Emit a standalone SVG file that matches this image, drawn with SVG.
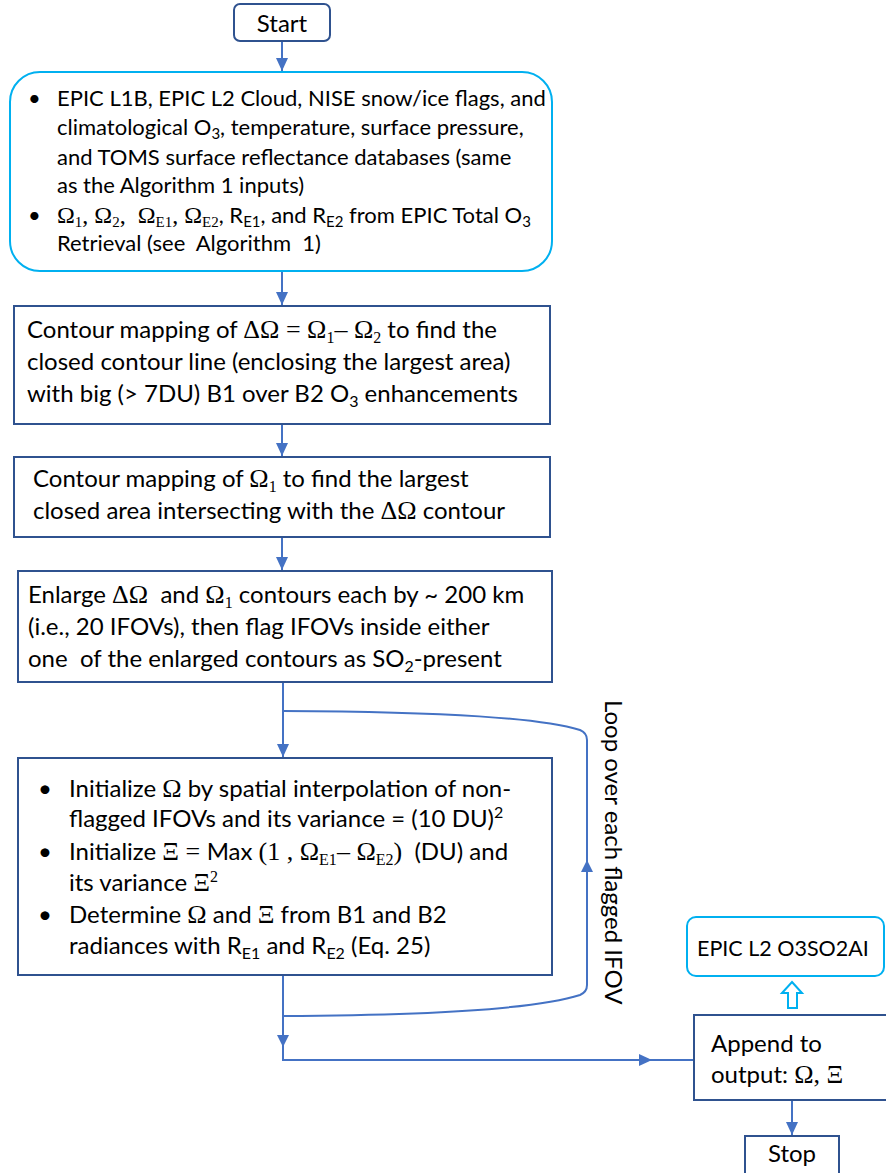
<svg xmlns="http://www.w3.org/2000/svg" width="886" height="1173" viewBox="0 0 886 1173">
<style>
text{font-family:Lato,"Liberation Sans",sans-serif;fill:#000;white-space:pre}
.t22{font-size:22px}
.t24{font-size:24px}
.s{font-family:"Liberation Serif","Times New Roman",serif}
.t24 .s{font-size:26px}
.t22 .s{font-size:24px}
.t24 .sb{font-size:16px}
.t22 .sb{font-size:15px}
.box{fill:#fff;stroke:#2F528F;stroke-width:2}
.lb{fill:#fff;stroke:#00B0F0;stroke-width:2}
.c{fill:none;stroke:#4472C4;stroke-width:2}
.ah{fill:#4472C4}
</style>
<defs>
<marker id="arr" markerUnits="userSpaceOnUse" markerWidth="13" markerHeight="12" viewBox="0 0 13 12" refX="13" refY="6" orient="auto"><path d="M0,0 L13,6 L0,12 z" fill="#4472C4"/></marker>
</defs>
<rect width="886" height="1173" fill="#fff"/>
<g id="connectors">
<path class="c" d="M282,41 V71" marker-end="url(#arr)"/>
<path class="c" d="M282,271 V305" marker-end="url(#arr)"/>
<path class="c" d="M282,424 V456" marker-end="url(#arr)"/>
<path class="c" d="M282,537 V570" marker-end="url(#arr)"/>
<path class="c" d="M283,682 V757" marker-end="url(#arr)"/>
<path class="c" d="M283,711 C450,712 540,718 580,730 Q587,733 587,740 V985 Q587,992 580,995 C540,1008 450,1015 283,1016"/>
<path class="ah" d="M587,860 L593,872 L581,872 z"/>
<path class="c" d="M283,975 V1060 H694"/>
<path class="ah" d="M283,1047 L277,1035 L289,1035 z"/>
<path class="ah" d="M652,1060 L639,1054 L639,1066 z"/>
<path class="c" d="M792,1100 V1135" marker-end="url(#arr)"/>
<path d="M792,982 L802,993 L797,993 L797,1008 L788,1008 L788,993 L782,993 z" fill="#fff" stroke="#00B0F0" stroke-width="2"/>
<text class="t24" transform="translate(605,700) rotate(90)">Loop over each flagged IFOV</text>
</g>
<g id="start">
<rect class="box" x="234" y="4" width="96" height="37" rx="6"/>
<text class="t24" x="282" y="32" text-anchor="middle">Start</text>
</g>
<g id="inputs">
<rect class="lb" x="10" y="72" width="542" height="199" rx="30"/>
<text class="t22" x="28" y="106">•</text>
<text class="t22" x="57" y="106">EPIC L1B, EPIC L2 Cloud, NISE snow/ice flags, and</text>
<text class="t22" x="57" y="135">climatological O<tspan class="sb" dy="4">3</tspan><tspan dy="-4">, temperature, surface pressure,</tspan></text>
<text class="t22" x="57" y="165">and TOMS surface reflectance databases (same</text>
<text class="t22" x="57" y="193">as the Algorithm 1 inputs)</text>
<text class="t22" x="28" y="223">•</text>
<text class="t22" x="57" y="223"><tspan class="s">Ω</tspan><tspan class="s sb" dy="4">1</tspan><tspan class="s" dy="-4">, Ω</tspan><tspan class="s sb" dy="4">2</tspan><tspan class="s" dy="-4">,  Ω</tspan><tspan class="s sb" dy="4">E1</tspan><tspan class="s" dy="-4">, Ω</tspan><tspan class="s sb" dy="4">E2</tspan><tspan dy="-4">, R</tspan><tspan class="sb" dy="4">E1</tspan><tspan dy="-4">, and R</tspan><tspan class="sb" dy="4">E2</tspan><tspan dy="-4"> from EPIC Total O</tspan><tspan class="sb" dy="4">3</tspan></text>
<text class="t22" x="57" y="251">Retrieval (see  Algorithm  1)</text>
</g>
<g id="contour-dO">
<rect class="box" x="14" y="306" width="536" height="118"/>
<text class="t24" x="27" y="338">Contour mapping of <tspan class="s">ΔΩ = Ω</tspan><tspan class="s sb" dy="5">1</tspan><tspan class="s" dy="-5">– Ω</tspan><tspan class="s sb" dy="5">2</tspan><tspan dy="-5"> to find the</tspan></text>
<text class="t24" x="27" y="370">closed contour line (enclosing the largest area)</text>
<text class="t24" x="27" y="402">with big (&gt; 7DU) B1 over B2 O<tspan class="sb" dy="5">3</tspan><tspan dy="-5"> enhancements</tspan></text>
</g>
<g id="contour-O1">
<rect class="box" x="14" y="457" width="536" height="80"/>
<text class="t24" x="33" y="487">Contour mapping of <tspan class="s">Ω</tspan><tspan class="s sb" dy="5">1</tspan><tspan dy="-5"> to find the largest</tspan></text>
<text class="t24" x="33" y="519">closed area intersecting with the <tspan class="s">ΔΩ</tspan> contour</text>
</g>
<g id="enlarge">
<rect class="box" x="18" y="571" width="534" height="111"/>
<text class="t24" x="28" y="603">Enlarge <tspan class="s">ΔΩ</tspan>  and <tspan class="s">Ω</tspan><tspan class="s sb" dy="5">1</tspan><tspan dy="-5"> contours each by ~ 200 km</tspan></text>
<text class="t24" x="28" y="635">(i.e., 20 IFOVs), then flag IFOVs inside either</text>
<text class="t24" x="28" y="667">one  of the enlarged contours as SO<tspan class="sb" dy="5">2</tspan><tspan dy="-5">-present</tspan></text>
</g>
<g id="initialize">
<rect class="box" x="18" y="758" width="534" height="217"/>
<text class="t24" x="38" y="797">•</text>
<text class="t24" x="69" y="797">Initialize <tspan class="s">Ω</tspan> by spatial interpolation of non-</text>
<text class="t24" x="69" y="827">flagged IFOVs and its variance = (10 DU)<tspan class="sb" dy="-9">2</tspan></text>
<text class="t24" x="38" y="860">•</text>
<text class="t24" x="69" y="860">Initialize <tspan class="s">Ξ = </tspan>Max <tspan class="s">(1 , Ω</tspan><tspan class="s sb" dy="5">E1</tspan><tspan class="s" dy="-5">– Ω</tspan><tspan class="s sb" dy="5">E2</tspan><tspan class="s" dy="-5">)</tspan>  (DU) and</text>
<text class="t24" x="69" y="891">its variance <tspan class="s">Ξ</tspan><tspan class="s sb" dy="-9">2</tspan></text>
<text class="t24" x="38" y="923">•</text>
<text class="t24" x="69" y="923">Determine <tspan class="s">Ω</tspan> and <tspan class="s">Ξ</tspan> from B1 and B2</text>
<text class="t24" x="69" y="954">radiances with R<tspan class="sb" dy="5">E1</tspan><tspan dy="-5"> and R</tspan><tspan class="sb" dy="5">E2</tspan><tspan dy="-5"> (Eq. 25)</tspan></text>
</g>
<g id="output-product">
<rect class="lb" x="687" y="917" width="197" height="59" rx="9"/>
<text x="697" y="956" font-size="21.5">EPIC L2 O3SO2AI</text>
</g>
<g id="append">
<rect class="box" x="694" y="1015" width="193" height="85"/>
<text class="t24" x="711" y="1052">Append to</text>
<text class="t24" x="711" y="1083">output: <tspan class="s">Ω, Ξ</tspan></text>
</g>
<g id="stop">
<rect class="box" x="745" y="1136" width="94" height="40"/>
<text class="t24" x="792" y="1162" text-anchor="middle">Stop</text>
</g>
</svg>
